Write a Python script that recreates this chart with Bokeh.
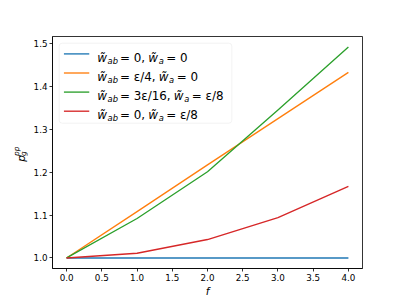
import math
from bokeh.plotting import figure
from bokeh.layouts import row
from bokeh.models import Range1d, FixedTicker, NumeralTickFormatter, Label, BoxAnnotation
from bokeh.core.properties import value
from bokeh.embed import file_html
from bokeh.resources import INLINE

# ---- data ----
f_vals = [0, 1, 2, 3, 4]
p_blue = [1.0, 1.0, 1.0, 1.0, 1.0]
p_orange = [1.0, 1.108, 1.217, 1.325, 1.433]
p_green = [1.0, 1.092, 1.201, 1.345, 1.492]
p_red = [1.0, 1.011, 1.043, 1.094, 1.167]
series = [p_blue, p_orange, p_green, p_red]
colors = ["#1f77b4", "#ff7f0e", "#2ca02c", "#d62728"]
legend_wab = ["0", "ε/4", "3ε/16", "0"]
legend_wa = ["0", "0", "ε/8", "ε/8"]
x_ticks = [0.0, 0.5, 1.0, 1.5, 2.0, 2.5, 3.0, 3.5, 4.0]
y_ticks = [1.0, 1.1, 1.2, 1.3, 1.4, 1.5]
y_title = ["p", "pp", "g"]   # p_g^{pp}

X0, X1 = -0.2, 4.2
Y0, Y1 = 0.9754, 1.5166

# ---- layout (page pixels) ----
CW, CH = 403, 302
LW = 30                      # width of the strip holding the y title
FL, FT, FW, FH = 50, 36, 312, 232
def dx(px):
    return X0 + (px - FL) / FW * (X1 - X0)
def dy(py):
    return Y1 - (py - FT) / FH * (Y1 - Y0)

FONT = "DejaVu Sans"
EM = {"w": 0.818, "\u0303": 0.0, "a": 0.613, "b": 0.635, " ": 0.318, "=": 0.838,
      ",": 0.318, "/": 0.337, "ε": 0.55}
def width_em(s):
    return sum(EM.get(c, 0.636) for c in s)

# ---- strip with the y-axis title ----
lf = figure(width=LW, height=CH, x_range=Range1d(0, LW), y_range=Range1d(CH, 0),
            output_backend="svg", toolbar_location=None, x_axis_type=None,
            y_axis_type=None, min_border=0)
lf.grid.visible = False
lf.outline_line_color = None
lf.background_fill_color = "white"
lf.border_fill_color = "white"
AF = 10.5
title_spec = [(AF, 20.0, 163.0), (0.7 * AF, 15.6, 155.6), (0.7 * AF, 22.6, 155.6)]
for txt, (size, bx, by) in zip(y_title, title_spec):
    lf.text(x=[bx], y=[by], text=[txt], angle=math.pi / 2,
            text_font=value(FONT), text_font_style="italic",
            text_font_size=f"{size:.2f}px", text_color="black",
            text_align="left", text_baseline="alphabetic")

# ---- main plot ----
p = figure(width=CW - LW, height=CH, x_range=Range1d(X0, X1), y_range=Range1d(Y0, Y1),
           output_backend="svg", toolbar_location=None,
           min_border_left=FL - LW, min_border_top=FT,
           min_border_right=CW - FL - FW, min_border_bottom=CH - FT - FH)
p.grid.visible = False
p.background_fill_color = "white"
p.border_fill_color = "white"
p.outline_line_color = "black"
p.outline_line_width = 0.8

for ax in (p.xaxis[0], p.yaxis[0]):
    ax.axis_line_color = "black"
    ax.axis_line_width = 0.8
    ax.major_tick_line_color = "black"
    ax.major_tick_line_width = 0.8
    ax.major_tick_out = 3
    ax.major_tick_in = 0
    ax.minor_tick_out = 0
    ax.minor_tick_in = 0
    ax.major_label_text_font = FONT
    ax.major_label_text_font_size = "8.75px"
    ax.major_label_text_color = "black"
    ax.major_label_standoff = 2
    ax.formatter = NumeralTickFormatter(format="0.0")
p.xaxis[0].ticker = FixedTicker(ticks=x_ticks)
p.yaxis[0].ticker = FixedTicker(ticks=y_ticks)
p.xaxis[0].axis_label = "f"
p.xaxis[0].axis_label_text_font = FONT
p.xaxis[0].axis_label_text_font_style = "italic"
p.xaxis[0].axis_label_text_font_size = "10.5px"
p.xaxis[0].axis_label_text_color = "black"
p.xaxis[0].axis_label_standoff = 1

for ys, c in zip(series, colors):
    p.line(f_vals, ys, color=c, line_width=1.35, line_join="round")

# ---- legend ----
LEG_L, LEG_R, LEG_T, LEG_B = 56.7, 230.5, 42.7, 122.7
box = BoxAnnotation(left=dx(LEG_L), right=dx(LEG_R), top=dy(LEG_T), bottom=dy(LEG_B),
                    fill_color="white", fill_alpha=0.8, line_color="#cccccc",
                    line_width=0.8, border_radius=3)
p.add_layout(box)

rows = [53.4 + 19.1 * i for i in range(4)]
p.segment(x0=[dx(61.5)] * 4, x1=[dx(87)] * 4, y0=[dy(r) for r in rows],
          y1=[dy(r) for r in rows], color=colors, line_width=1.35, level="overlay")

F = 11.9
SUBF = 0.7 * F
for r, wab, wa in zip(rows, legend_wab, legend_wa):
    base = r + 4.0
    pieces = [("w\u0303", "italic", F, 0.0, 0.06),
              ("ab", "italic", SUBF, 0.22 * F, 0.25),
              ("= " + wab + ",", "normal", F, 0.0, 0.28),
              ("w\u0303", "italic", F, 0.0, 0.06),
              ("a", "italic", SUBF, 0.22 * F, 0.3),
              ("= " + wa, "normal", F, 0.0, 0.0)]
    x = 95.0
    for txt, style, size, shift, corr in pieces:
        p.add_layout(Label(x=dx(x), y=dy(base + shift), text=txt, text_font=FONT,
                           text_font_style=style, text_font_size=f"{size:.2f}px",
                           text_color="black", text_align="left",
                           text_baseline="alphabetic"))
        x += (width_em(txt) + corr) * size

layout = row(lf, p, spacing=0)
open("out.html", "w").write(file_html(layout, INLINE))
